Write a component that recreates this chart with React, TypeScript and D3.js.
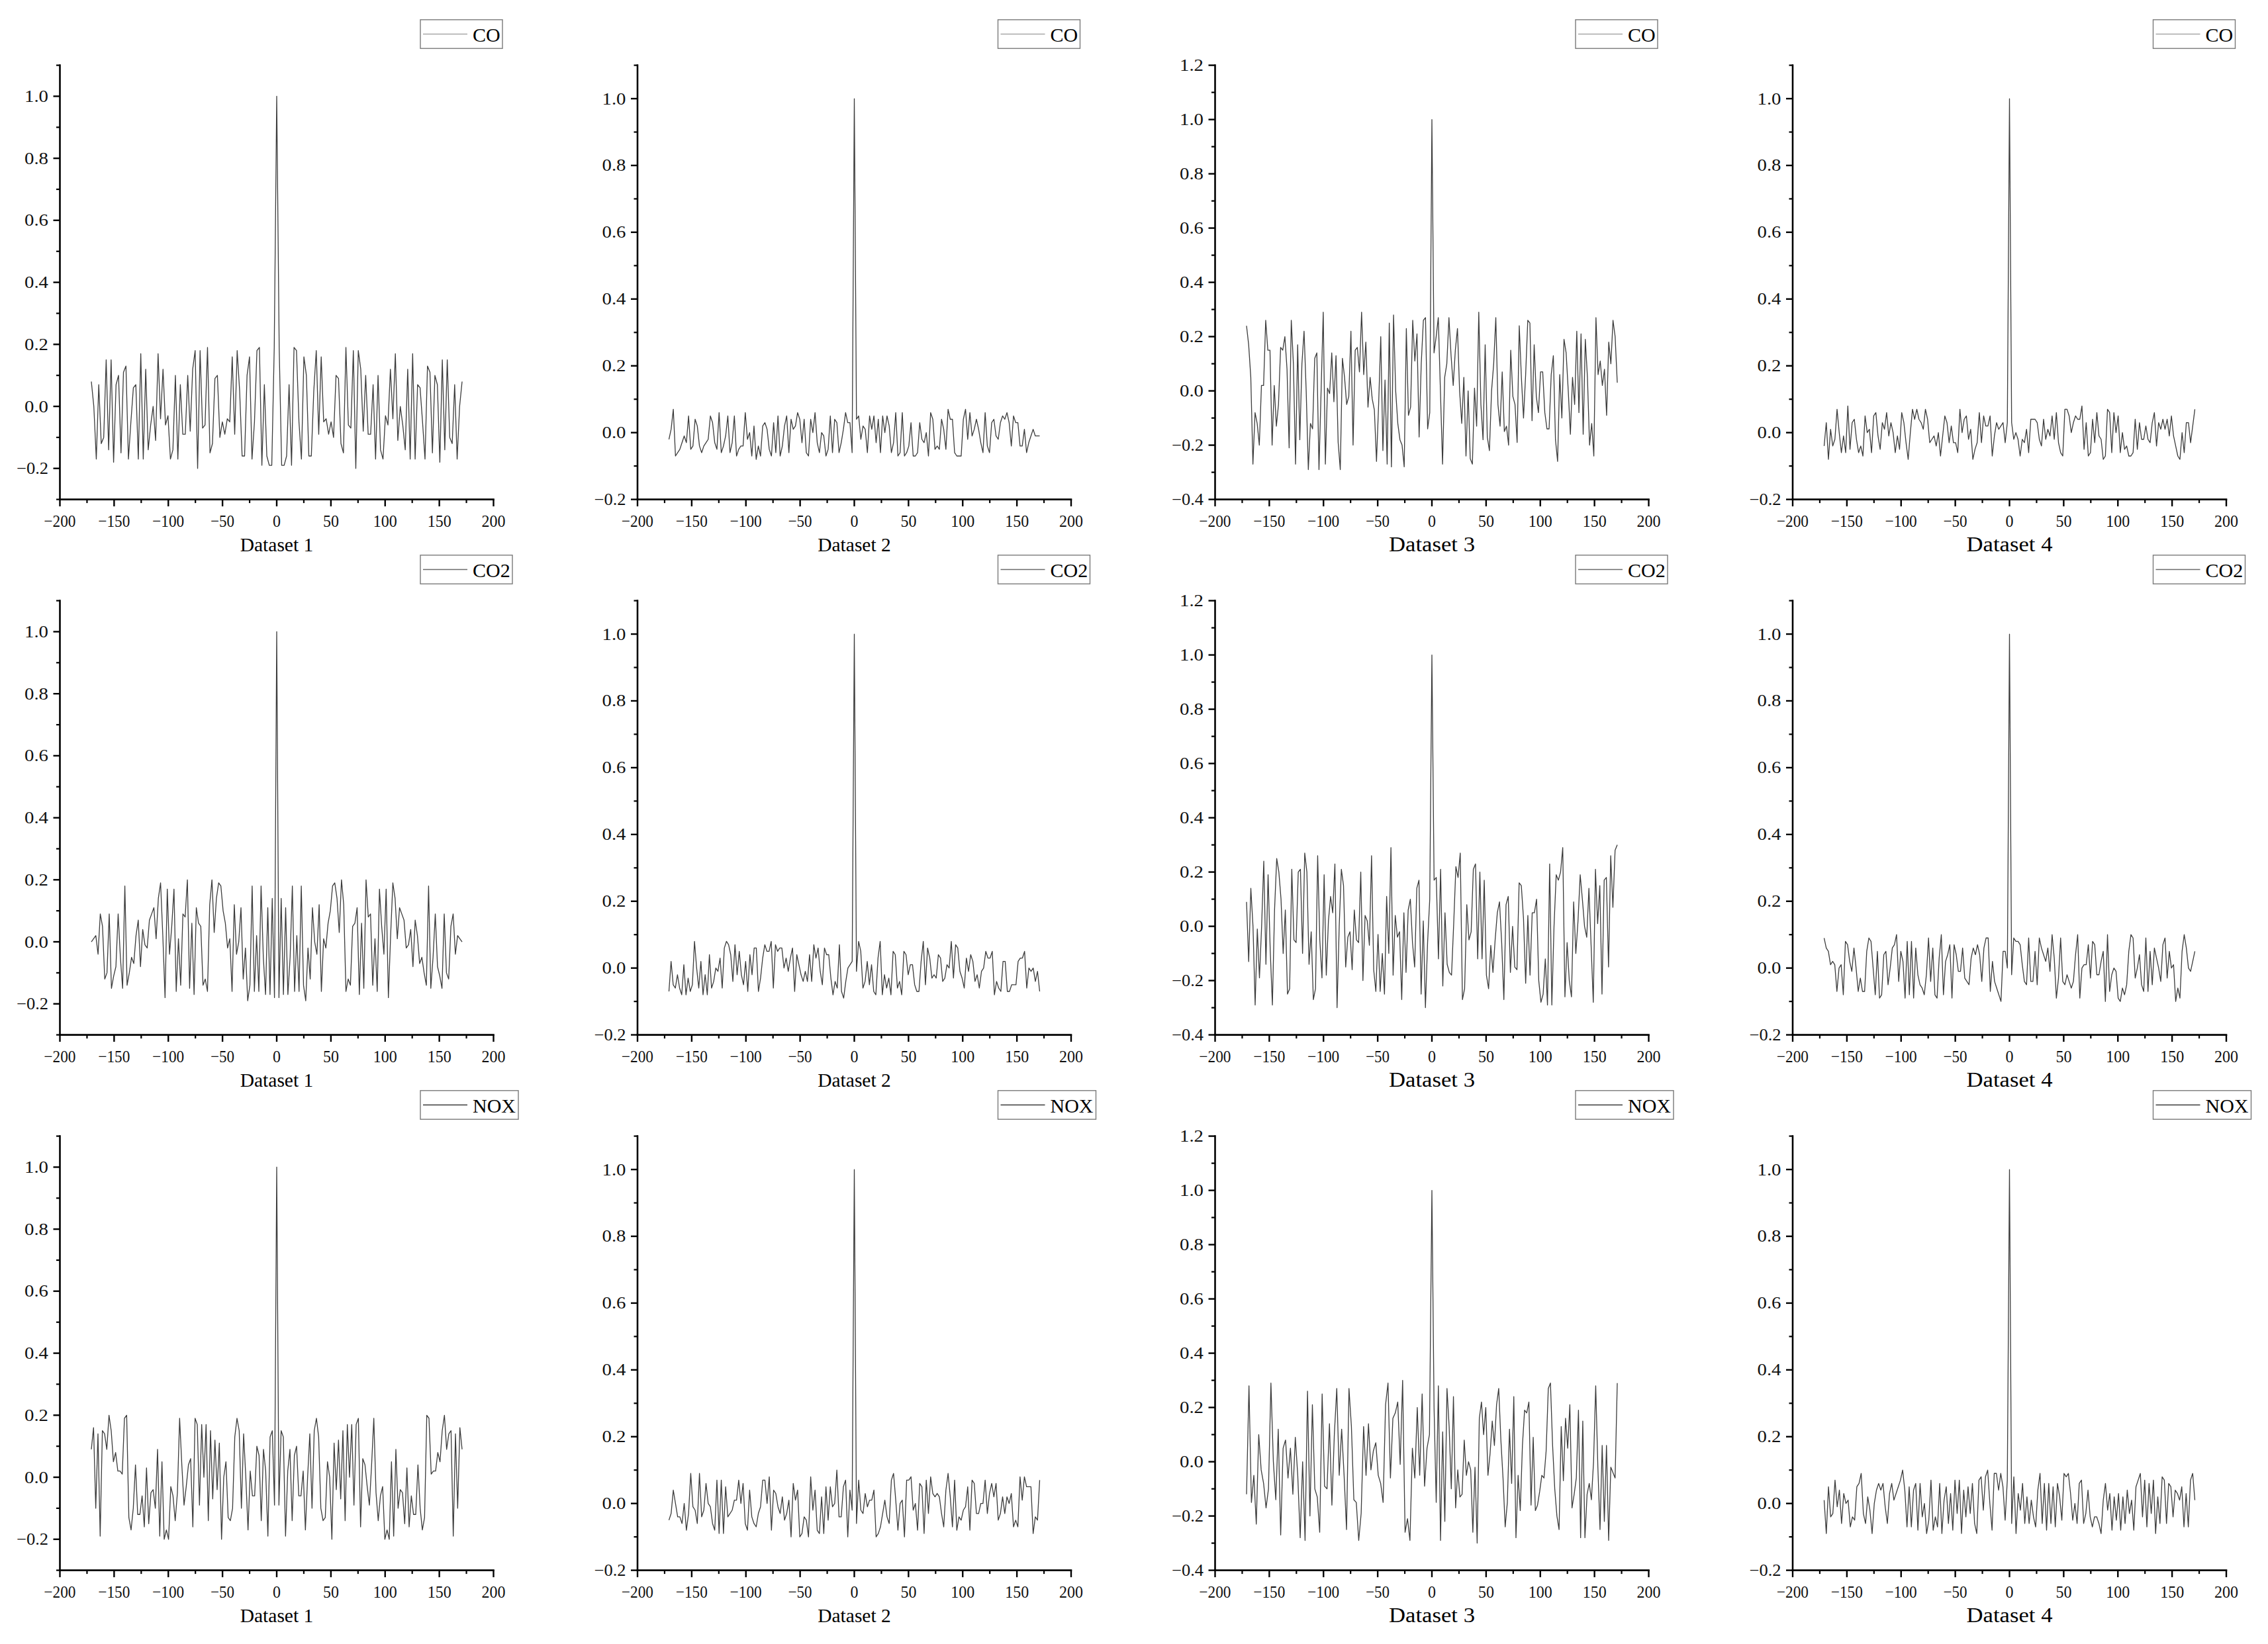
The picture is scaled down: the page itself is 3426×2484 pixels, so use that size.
import React from 'react';
import * as d3 from 'd3';

// cross-correlation panels: rows = gas, columns = dataset
const SERIES = ['CO', 'CO2', 'NOX'];
const DATASETS = ['Dataset 1', 'Dataset 2', 'Dataset 3', 'Dataset 4'];
const X_TICKS = [-200, -150, -100, -50, 0, 50, 100, 150, 200];
const X_MINOR = [-175, -125, -75, -25, 25, 75, 125, 175];
const Y_DOMAINS = [[-0.3, 1.1], [-0.2, 1.1], [-0.4, 1.2], [-0.2, 1.1]];
const Y_TICKS = [
  [-0.2, 0.0, 0.2, 0.4, 0.6, 0.8, 1.0],
  [-0.2, 0.0, 0.2, 0.4, 0.6, 0.8, 1.0],
  [-0.4, -0.2, 0.0, 0.2, 0.4, 0.6, 0.8, 1.0, 1.2],
  [-0.2, 0.0, 0.2, 0.4, 0.6, 0.8, 1.0],
];
const MAX_LAG = 171;
const PEAK = 1.0;

// values at negative lags (from -171 towards 0) and positive lags (from 0 to 171)
const CO_D1_NEG = [
  0.08, 0.00, -0.17, 0.07, -0.12,
  -0.10, 0.15, -0.14, 0.15, -0.18, 0.07, 0.10, -0.15, 0.11, 0.13,
  -0.17, -0.05, 0.06, 0.07, -0.17, 0.17, -0.17, 0.12, -0.14, -0.06,
  0.00, -0.11, 0.17, -0.04, 0.12, -0.06, -0.03, -0.17, -0.14, 0.10,
  -0.17, 0.07, -0.09, -0.09, 0.10, -0.08, 0.12, 0.18, -0.20, 0.18,
  -0.07, -0.06, 0.19, -0.15, -0.12, 0.09, 0.10, -0.10, -0.05, -0.09,
  -0.04, -0.05, 0.16, -0.09, 0.18, 0.05, -0.16, -0.16, 0.10, 0.16,
  -0.17, -0.05, 0.18, 0.19, -0.19, 0.07, -0.16, -0.19, -0.19, 0.19,
];
const CO_D1_POS = [
  0.19, -0.19, -0.19, -0.16, 0.07, -0.19, 0.19, 0.18, -0.05, -0.17,
  0.16, 0.10, -0.16, -0.16, 0.05, 0.18, -0.09, 0.16, -0.05, -0.04,
  -0.09, -0.05, -0.10, 0.10, 0.09, -0.12, -0.15, 0.19, -0.06, -0.07,
  0.18, -0.20, 0.18, 0.12, -0.08, 0.10, -0.09, -0.09, 0.07, -0.17,
  0.10, -0.14, -0.17, -0.03, -0.06, 0.12, -0.04, 0.17, -0.11, 0.00,
  -0.06, -0.14, 0.12, -0.17, 0.17, -0.17, 0.07, 0.06, -0.05, -0.17,
  0.13, 0.11, -0.15, 0.10, 0.07, -0.18, 0.15, -0.14, 0.15, -0.10,
  -0.12, 0.07, -0.17, 0.00, 0.08,
];
const CO_D2_NEG = [
  -0.02, 0.01, 0.07, -0.07, -0.06, -0.05, -0.03, -0.01, -0.03, 0.05,
  -0.05, -0.04, 0.04, 0.02, -0.04, -0.06, -0.04, -0.03, -0.02, 0.05,
  0.03, -0.03, -0.05, 0.06, -0.06, -0.04, -0.01, 0.05, -0.06, -0.03,
  0.05, -0.07, -0.05, -0.04, -0.04, 0.06, -0.02, 0.00, -0.07, 0.02,
  -0.08, -0.04, -0.07, 0.02, 0.03, 0.01, -0.05, -0.07, 0.03, -0.06,
  0.05, -0.07, -0.04, 0.02, 0.05, -0.06, 0.04, 0.01, 0.02, 0.06,
  0.04, -0.03, 0.04, -0.06, -0.07, 0.04, 0.00, 0.06, -0.03, -0.06,
  0.00, -0.01, -0.07, -0.05, 0.05, -0.06, 0.04, 0.03, -0.06, -0.03,
  0.01, 0.06, 0.03, 0.03, -0.06,
];
const CO_D2_POS = [
  0.04, 0.05, -0.02, 0.02, 0.01, -0.06, 0.05, 0.01, 0.05, -0.03,
  0.04, -0.06, 0.05, 0.00, 0.05, 0.02, -0.06, -0.03, 0.06, -0.07,
  -0.06, 0.06, -0.07, -0.06, -0.04, 0.03, -0.07, -0.07, -0.06, 0.03,
  -0.02, -0.03, 0.00, -0.07, 0.06, 0.04, -0.05, -0.04, -0.05, 0.04,
  0.01, -0.05, 0.07, 0.04, 0.04, -0.06, -0.07, -0.07, -0.07, 0.04,
  0.07, -0.02, 0.06, -0.01, 0.01, 0.04, 0.01, -0.03, -0.06, 0.06,
  -0.04, -0.06, 0.03, 0.04, -0.01, -0.02, 0.03, 0.05, 0.04, 0.06,
  0.03, -0.04, 0.05, 0.03, 0.03, -0.04, -0.04, 0.01, -0.06, -0.03,
  -0.01, 0.01, -0.01, -0.01, -0.01,
];
const CO_D3_NEG = [
  0.24, 0.17, 0.05, -0.27, -0.08, -0.12, -0.20, 0.02, 0.02, 0.26,
  0.15, 0.15, -0.20, 0.02, -0.13, -0.05, 0.16, 0.15, 0.20, 0.08,
  -0.21, 0.26, 0.10, -0.27, 0.17, -0.18, 0.10, 0.22, 0.00, -0.29,
  -0.12, -0.14, 0.12, 0.14, -0.29, 0.00, 0.29, -0.27, 0.01, -0.01,
  0.14, -0.04, 0.13, -0.19, -0.29, 0.12, 0.05, -0.05, -0.02, 0.22,
  -0.20, 0.15, 0.16, 0.07, 0.29, 0.06, 0.18, -0.06, 0.05, -0.03,
  -0.07, -0.26, -0.05, 0.20, -0.22, 0.04, -0.27, 0.25, -0.28, 0.28,
  0.00, -0.12, -0.18, -0.20, -0.28, 0.23, -0.09, -0.06, 0.26, 0.11,
  0.21, -0.17, 0.10, 0.26, 0.27, -0.14, -0.08,
];
const CO_D3_POS = [
  0.14, 0.20, 0.27, 0.00, -0.27, 0.05, 0.10, 0.27, 0.13, 0.02,
  0.15, 0.23, 0.00, -0.12, 0.05, -0.24, 0.00, -0.25, -0.27, 0.01,
  -0.13, 0.29, -0.05, -0.18, 0.17, -0.17, -0.22, 0.00, 0.10, 0.27,
  -0.05, -0.13, 0.07, -0.15, -0.13, -0.20, 0.15, -0.02, -0.05, -0.19,
  0.24, 0.05, -0.10, 0.06, 0.26, 0.25, -0.11, 0.17, -0.02, -0.08,
  0.07, 0.07, -0.08, -0.14, -0.14, 0.06, 0.13, -0.18, -0.26, 0.06,
  -0.10, 0.19, 0.14, 0.00, -0.16, 0.05, -0.05, 0.22, -0.08, 0.21,
  -0.16, 0.19, 0.05, -0.20, -0.12, -0.24, 0.27, 0.06, 0.11, 0.02,
  0.08, -0.09, 0.18, 0.10, 0.26, 0.20, 0.03,
];
const CO_D4_NEG = [
  -0.04, 0.03, -0.08, 0.01, -0.04, -0.02, 0.07, 0.00, -0.06, -0.01,
  -0.06, 0.08, -0.05, 0.03, 0.04, -0.02, -0.06, -0.04, -0.07, 0.05,
  0.00, 0.01, -0.06, 0.05, 0.06, -0.01, -0.05, 0.03, 0.01, 0.06,
  -0.01, 0.03, 0.00, -0.06, -0.01, -0.05, 0.06, 0.03, -0.03, -0.08,
  0.00, 0.07, 0.04, 0.07, 0.04, 0.03, 0.01, 0.07, 0.04, -0.03,
  -0.02, -0.01, -0.04, 0.00, -0.07, -0.01, 0.05, 0.03, -0.03, 0.02,
  -0.03, -0.03, -0.06, 0.07, 0.00, 0.04, 0.05, -0.02, 0.01, -0.08,
  -0.05, -0.03, 0.06, -0.03, 0.05, 0.02, 0.02, 0.05, -0.07, -0.01,
  0.03, 0.01, 0.02, 0.03, -0.03, 0.03,
];
const CO_D4_POS = [
  0.03, -0.02, 0.00, -0.02, -0.07, -0.02, -0.03, 0.01, -0.06, 0.04,
  0.04, 0.04, 0.03, -0.02, -0.04, 0.04, -0.02, 0.01, -0.01, 0.05,
  -0.02, 0.06, -0.03, -0.06, -0.07, 0.07, 0.07, 0.05, 0.00, 0.03,
  0.05, 0.04, 0.04, 0.08, -0.05, 0.03, -0.07, -0.06, 0.04, -0.03,
  0.06, -0.01, -0.02, -0.08, -0.07, 0.07, 0.06, -0.06, 0.06, 0.00,
  0.05, -0.06, 0.00, -0.05, -0.04, -0.07, -0.07, -0.06, 0.04, -0.05,
  0.03, -0.02, -0.02, 0.02, -0.02, -0.03, 0.03, 0.06, -0.04, 0.03,
  0.01, 0.04, 0.01, 0.04, -0.01, 0.05, -0.01, -0.04, -0.07, -0.08,
  0.00, -0.06, 0.03, 0.03, -0.03, 0.02, 0.07,
];

const CO2_D1_NEG = [
  0.00, 0.01, 0.02,
  -0.04, 0.09, 0.05, -0.12, -0.10, 0.09, -0.15, -0.11, -0.08, 0.09,
  -0.05, -0.15, 0.18, -0.14, -0.10, -0.05, -0.07, 0.02, 0.07, -0.08,
  0.04, -0.01, -0.02, 0.07, 0.09, 0.11, 0.01, 0.14, 0.19, 0.02,
  -0.18, 0.17, -0.04, 0.05, 0.17, -0.16, 0.01, -0.14, 0.09, 0.08,
  0.20, -0.15, 0.06, -0.17, 0.11, 0.06, 0.05, -0.14, -0.12, -0.16,
  0.12, 0.20, 0.03, 0.14, 0.19, 0.18, 0.10, 0.06, -0.02, 0.01,
  -0.16, 0.12, -0.04, 0.00, 0.11, -0.12, -0.02, -0.19, -0.14, 0.18,
  -0.16, 0.02, -0.16, 0.18, -0.05, -0.17, 0.11, -0.17, 0.14, -0.18,
];
const CO2_D1_POS = [
  -0.18, 0.14, -0.17, 0.11, -0.17, -0.05, 0.18, -0.16, 0.02, -0.16,
  0.18, -0.14, -0.19, -0.02, -0.12, 0.11, 0.00, -0.04, 0.12, -0.16,
  0.01, -0.02, 0.06, 0.10, 0.18, 0.19, 0.14, 0.03, 0.20, 0.12,
  -0.16, -0.12, -0.14, 0.05, 0.06, 0.11, -0.17, 0.06, -0.15, 0.20,
  0.08, 0.09, -0.14, 0.01, -0.16, 0.17, 0.05, -0.04, 0.17, -0.18,
  0.02, 0.19, 0.14, 0.01, 0.11, 0.09, 0.07, -0.02, -0.01, 0.04,
  -0.08, 0.07, 0.02, -0.07, -0.05, -0.10, -0.14, 0.18, -0.15, -0.05,
  0.09, -0.08, -0.11, -0.15, 0.09, -0.10, -0.12, 0.05, 0.09, -0.04,
  0.02, 0.01, 0.00,
];
const CO2_D2_NEG = [
  -0.07, 0.02, -0.05, -0.06, -0.02, -0.06, -0.08, 0.01, -0.08, -0.03,
  -0.07, -0.05, 0.08, 0.00, -0.06, 0.02, -0.08, -0.02, -0.08, 0.04,
  -0.06, -0.04, 0.00, -0.01, 0.03, -0.06, 0.06, 0.08, 0.07, 0.04,
  -0.04, 0.07, -0.02, 0.05, -0.02, -0.05, 0.02, -0.07, 0.04, -0.02,
  0.06, 0.06, -0.07, -0.03, 0.03, 0.07, 0.05, 0.05, 0.08, -0.06,
  0.07, 0.05, 0.06, 0.06, 0.00, 0.03, -0.01, 0.03, 0.06, -0.07,
  0.04, 0.01, -0.02, -0.04, -0.01, -0.04, 0.04, -0.04, 0.07, 0.03,
  0.06, -0.01, -0.05, 0.06, 0.04, 0.04, -0.03, -0.08, -0.04, -0.06,
  0.07, -0.07, -0.09, -0.04, 0.00, 0.01, 0.02,
];
const CO2_D2_POS = [
  -0.01, 0.08, 0.05, -0.06, -0.04, 0.02, -0.05, 0.01, -0.07, -0.08,
  0.03, 0.08, -0.08, -0.02, -0.06, -0.03, -0.08, 0.05, 0.04, -0.06,
  -0.04, -0.08, 0.05, 0.04, -0.02, 0.01, 0.01, -0.05, -0.07, -0.07,
  0.02, 0.08, -0.05, 0.06, 0.03, -0.03, -0.02, -0.03, 0.04, 0.03,
  -0.04, -0.03, 0.01, 0.00, 0.08, -0.03, 0.07, 0.06, -0.01, -0.03,
  -0.06, 0.03, -0.01, 0.04, 0.02, -0.04, -0.02, -0.06, -0.01, 0.00,
  0.05, 0.03, 0.03, 0.05, -0.08, -0.04, -0.06, -0.07, 0.02, 0.02,
  -0.07, -0.07, -0.05, -0.05, -0.05, 0.02, 0.03, 0.03, 0.05, -0.06,
  0.00, -0.01, 0.00, -0.04, -0.01, -0.07,
];
const CO2_D3_NEG = [
  0.09, -0.13, 0.14, 0.00, -0.29, -0.01, -0.19, 0.00, 0.24, -0.14,
  0.19, -0.09, -0.29, 0.06, 0.25, 0.20, 0.10, -0.10, 0.06, -0.25,
  -0.23, 0.21, -0.05, -0.06, 0.20, 0.21, -0.10, 0.27, 0.20, -0.14,
  -0.02, -0.27, -0.23, 0.26, -0.05, -0.19, 0.19, -0.18, 0.02, 0.11,
  0.05, 0.23, -0.30, 0.00, 0.21, 0.15, -0.15, -0.04, -0.02, -0.16,
  0.06, -0.05, -0.06, 0.20, -0.20, 0.04, 0.02, -0.07, 0.26, -0.16,
  -0.24, -0.03, -0.24, -0.10, -0.25, 0.11, -0.10, 0.29, -0.18, 0.04,
  -0.04, -0.02, -0.27, 0.05, -0.17, 0.06, 0.10, -0.06, -0.15, 0.14,
  0.17, -0.25, 0.02, -0.30, -0.06, 0.10,
];
const CO2_D3_POS = [
  0.17, 0.18, -0.12, 0.21, -0.22, 0.05, -0.14, -0.17, -0.18, 0.01,
  0.22, 0.18, 0.27, -0.27, -0.23, 0.08, -0.05, -0.02, 0.21, 0.23,
  -0.12, 0.20, -0.12, 0.17, -0.18, -0.23, -0.07, -0.17, -0.05, 0.05,
  0.09, -0.06, -0.27, 0.08, 0.11, -0.17, 0.00, -0.15, -0.16, 0.16,
  0.15, 0.03, -0.21, 0.04, -0.18, 0.05, 0.05, 0.10, -0.20, -0.28,
  -0.25, -0.12, -0.29, 0.23, -0.29, 0.00, 0.19, 0.17, 0.20, 0.29,
  -0.26, -0.06, -0.20, -0.26, 0.09, -0.10, 0.02, 0.19, 0.10, 0.00,
  -0.04, 0.14, -0.07, -0.28, 0.21, 0.01, 0.15, -0.25, 0.17, 0.18,
  -0.15, 0.26, 0.07, 0.28, 0.30,
];
const CO2_D4_NEG = [
  0.09, 0.06, 0.05, 0.01, 0.02, 0.01, -0.07, 0.00, 0.01, -0.08,
  0.08, 0.07, 0.02, -0.01, 0.06, 0.00, -0.07, -0.03, -0.07, -0.07,
  0.05, 0.09, 0.08, 0.00, -0.08, 0.05, -0.09, -0.08, 0.04, 0.05,
  -0.05, 0.00, 0.06, 0.07, 0.10, -0.04, 0.05, 0.02, -0.09, 0.08,
  -0.08, 0.08, -0.09, 0.06, -0.02, -0.05, -0.06, -0.08, -0.02, 0.09,
  -0.04, 0.06, -0.08, -0.09, 0.03, 0.10, -0.08, 0.02, 0.04, 0.07,
  -0.09, 0.07, 0.04, -0.01, -0.01, 0.06, -0.03, -0.04, -0.05, 0.03,
  0.06, 0.04, 0.07, 0.04, -0.04, 0.06, 0.09, 0.09, -0.07, 0.02,
  -0.04, -0.06, -0.08, -0.10, 0.05, 0.05, 0.00,
];
const CO2_D4_POS = [
  -0.02, 0.09, 0.08, 0.08, 0.07, 0.01, -0.04, -0.05, 0.09, -0.04,
  -0.04, 0.05, -0.05, 0.09, 0.06, 0.04, 0.02, 0.06, -0.01, 0.10,
  0.03, -0.09, -0.03, 0.09, -0.04, -0.05, -0.02, -0.04, -0.06, -0.04,
  0.04, 0.10, -0.09, 0.00, 0.01, 0.01, 0.07, -0.03, 0.08, 0.07,
  -0.02, -0.02, 0.02, 0.05, -0.10, 0.10, -0.07, -0.02, 0.00, -0.01,
  -0.09, -0.10, -0.06, -0.08, -0.05, 0.05, 0.10, 0.09, -0.03, 0.00,
  0.04, -0.05, -0.07, 0.09, -0.07, 0.05, -0.05, 0.06, 0.03, 0.00,
  -0.04, 0.07, 0.09, -0.03, 0.05, 0.00, 0.01, -0.10, -0.06, -0.09,
  0.05, 0.10, 0.06, 0.00, -0.01, 0.02, 0.05,
];

const NOX_D1_NEG = [
  0.09, 0.16, -0.10, 0.14,
  -0.19, 0.15, 0.14, 0.09, 0.20, 0.15, 0.05, 0.08, 0.02, 0.02,
  0.01, 0.19, 0.20, -0.13, -0.17, -0.10, 0.04, -0.12, -0.12, -0.06,
  -0.16, 0.03, -0.15, -0.05, -0.04, -0.10, 0.09, -0.19, 0.05, -0.20,
  -0.17, -0.20, -0.03, -0.06, -0.14, -0.05, 0.19, 0.04, -0.09, -0.03,
  0.04, 0.06, -0.16, 0.19, 0.17, -0.09, 0.17, 0.00, 0.17, -0.14,
  0.15, -0.07, 0.12, -0.04, 0.11, -0.20, 0.00, 0.05, -0.13, -0.14,
  -0.10, 0.13, 0.19, 0.15, -0.10, 0.14, 0.00, -0.17, 0.02, -0.06,
  -0.06, 0.10, 0.07, -0.14, 0.09, 0.02, -0.19, 0.13, 0.15, -0.09,
];
const NOX_D1_POS = [
  -0.09, 0.15, 0.13, -0.19, 0.02, 0.09, -0.14, 0.07, 0.10, -0.06,
  -0.06, 0.02, -0.17, 0.00, 0.14, -0.10, 0.15, 0.19, 0.13, -0.10,
  -0.14, -0.13, 0.05, 0.00, -0.20, 0.11, -0.04, 0.12, -0.07, 0.15,
  -0.14, 0.17, 0.00, 0.17, -0.09, 0.17, 0.19, -0.16, 0.06, 0.04,
  -0.03, -0.09, 0.04, 0.19, -0.05, -0.14, -0.06, -0.03, -0.20, -0.17,
  -0.20, 0.05, -0.19, 0.09, -0.10, -0.04, -0.05, -0.15, 0.03, -0.16,
  -0.06, -0.12, -0.12, 0.04, -0.10, -0.17, -0.13, 0.20, 0.19, 0.01,
  0.02, 0.02, 0.08, 0.05, 0.15, 0.20, 0.09, 0.14, 0.15, -0.19,
  0.14, -0.10, 0.16, 0.09,
];
const NOX_D2_NEG = [
  -0.05, -0.03, 0.04, 0.00, -0.04, -0.04, -0.06, 0.00, -0.08, -0.03,
  0.09, -0.01, -0.02, -0.06, 0.09, -0.04, -0.02, 0.06, 0.00, -0.01,
  -0.06, -0.08, 0.07, -0.09, 0.07, -0.09, 0.05, -0.04, -0.03, -0.02,
  0.01, 0.01, 0.07, 0.00, 0.06, -0.06, -0.08, 0.04, -0.04, -0.06,
  -0.07, -0.03, -0.01, 0.07, 0.07, 0.00, 0.08, -0.08, 0.04, 0.03,
  -0.01, -0.03, 0.02, -0.05, -0.03, 0.01, -0.10, 0.06, 0.01, 0.04,
  -0.10, -0.09, -0.04, -0.05, -0.10, 0.08, -0.02, 0.04, -0.08, -0.09,
  0.02, -0.09, 0.05, -0.05, 0.05, -0.01, 0.00, 0.10, -0.04, -0.04,
  0.05, 0.07, -0.10, 0.04, -0.02,
];
const NOX_D2_POS = [
  -0.06, 0.07, -0.02, -0.03, 0.03, -0.01, 0.01, 0.01, 0.04, -0.10,
  -0.09, -0.07, -0.03, 0.01, -0.04, -0.06, 0.07, 0.09, 0.01, -0.08,
  0.00, 0.01, -0.10, 0.07, 0.07, 0.08, -0.02, 0.00, -0.08, 0.06,
  0.05, -0.09, 0.07, -0.03, 0.08, 0.03, 0.02, 0.03, 0.02, -0.03,
  -0.07, 0.04, 0.09, 0.02, -0.07, 0.07, -0.08, -0.04, -0.05, -0.02,
  -0.01, 0.05, -0.08, 0.07, 0.06, -0.03, -0.03, 0.00, 0.00, 0.07,
  -0.03, 0.03, 0.06, 0.02, 0.06, -0.05, -0.03, 0.02, -0.03, 0.02,
  0.00, 0.03, -0.07, -0.05, -0.07, 0.08, 0.01, 0.08, 0.05, 0.05,
  0.05, -0.09, -0.04, -0.05, 0.07,
];
const NOX_D3_NEG = [
  -0.12, 0.28, -0.15, -0.05, -0.23, 0.10, -0.03, -0.08, -0.17, -0.10,
  0.29, 0.00, -0.14, 0.12, -0.27, 0.05, 0.08, -0.06, 0.05, -0.12,
  0.09, -0.05, -0.28, 0.00, -0.29, 0.26, -0.20, 0.21, -0.10, -0.13,
  -0.26, 0.25, -0.09, -0.10, 0.14, -0.16, 0.10, 0.27, -0.05, 0.12,
  -0.05, -0.25, 0.27, 0.13, -0.14, -0.15, -0.29, -0.19, 0.13, -0.05,
  0.14, -0.03, 0.04, 0.07, -0.05, -0.08, -0.15, 0.21, 0.29, -0.06,
  0.16, 0.18, 0.22, -0.01, 0.30, -0.26, -0.21, -0.29, 0.05, -0.06,
  0.20, -0.05, 0.25, -0.09, 0.05, 0.10,
];
const NOX_D3_POS = [
  0.20, -0.15, 0.28, -0.29, 0.11, -0.22, 0.27, 0.13, -0.10, 0.24,
  -0.17, -0.03, -0.13, -0.12, 0.08, -0.05, 0.00, -0.03, -0.26, -0.02,
  -0.30, 0.16, 0.22, 0.10, 0.20, -0.05, 0.03, 0.15, 0.06, 0.21,
  0.27, 0.08, -0.06, -0.24, -0.15, 0.12, -0.08, 0.24, -0.28, -0.05,
  -0.18, 0.06, 0.19, 0.18, 0.22, -0.16, 0.09, -0.18, -0.16, -0.11,
  -0.05, -0.06, 0.04, 0.27, 0.29, 0.06, -0.10, -0.20, -0.25, 0.13,
  -0.07, 0.16, 0.05, 0.21, -0.17, -0.12, -0.06, 0.19, -0.28, 0.15,
  -0.28, -0.12, -0.08, -0.14, 0.00, 0.28, -0.02, -0.25, 0.06, -0.22,
  0.06, -0.29, -0.02, -0.04, -0.06, 0.29,
];
const NOX_D4_NEG = [
  0.01, -0.09, 0.05, -0.04, -0.03, 0.07, -0.01, 0.04, -0.06, 0.03,
  0.00, 0.01, -0.07, -0.04, -0.05, 0.05, 0.06, 0.09, -0.03, -0.06,
  0.02, -0.02, -0.09, 0.00, 0.04, 0.06, 0.04, 0.06, -0.01, -0.06,
  0.03, 0.06, 0.01, 0.03, 0.05, 0.07, 0.10, 0.04, -0.07, 0.05,
  -0.07, 0.04, 0.06, -0.08, 0.06, -0.04, 0.00, -0.09, -0.05, 0.07,
  -0.08, -0.04, -0.07, 0.06, -0.09, 0.01, 0.05, -0.06, 0.03, -0.08,
  0.07, -0.03, 0.07, -0.09, 0.04, -0.04, 0.05, -0.03, 0.06, -0.06,
  -0.09, 0.07, 0.08, -0.02, 0.08, 0.10, 0.00, -0.08, 0.09, 0.09,
  0.04, 0.09, 0.05, -0.05, 0.07,
];
const NOX_D4_POS = [
  -0.06, 0.08, -0.09, 0.03, -0.02, 0.06, -0.06, 0.02, -0.06, 0.01,
  -0.04, -0.07, 0.04, 0.09, -0.06, 0.06, -0.08, 0.06, -0.06, 0.05,
  -0.07, 0.06, 0.02, -0.05, 0.09, 0.08, 0.09, 0.03, -0.05, 0.00,
  -0.06, 0.06, 0.07, -0.06, -0.03, 0.04, -0.04, -0.07, -0.04, -0.04,
  -0.06, -0.09, 0.01, 0.06, -0.02, 0.03, -0.08, 0.02, -0.05, 0.03,
  -0.08, 0.02, -0.06, 0.04, -0.03, 0.01, -0.08, 0.05, 0.07, 0.09,
  -0.04, 0.07, -0.07, 0.06, -0.03, 0.07, -0.09, 0.02, -0.06, 0.08,
  0.07, -0.06, 0.06, 0.05, -0.04, 0.04, 0.03, 0.01, 0.05, -0.07,
  0.03, -0.07, 0.07, 0.09, 0.01,
];

const NEG = [
  [CO_D1_NEG, CO_D2_NEG, CO_D3_NEG, CO_D4_NEG],
  [CO2_D1_NEG, CO2_D2_NEG, CO2_D3_NEG, CO2_D4_NEG],
  [NOX_D1_NEG, NOX_D2_NEG, NOX_D3_NEG, NOX_D4_NEG],
];
const POS = [
  [CO_D1_POS, CO_D2_POS, CO_D3_POS, CO_D4_POS],
  [CO2_D1_POS, CO2_D2_POS, CO2_D3_POS, CO2_D4_POS],
  [NOX_D1_POS, NOX_D2_POS, NOX_D3_POS, NOX_D4_POS],
];

// layout
const W = 3426;
const H = 2484;
const LEFT0 = 90.5;
const COL_STEP = 872.5;
const TOP0 = 98.6;
const ROW_STEP = 809;
const PLOT_W = 655;
const PLOT_H = 656;
const SERIF = "'Liberation Serif', 'Times New Roman', serif";
const LEGEND_W = { CO: 124, CO2: 139, NOX: 148 };
const LEGEND_STROKE = { CO: '#a6a6a6', CO2: '#6a6a6a', NOX: '#3a3a3a' };

const fmt = d3.format('.1f');

function Panel({ row, col }) {
  const left = LEFT0 + col * COL_STEP;
  const top = TOP0 + row * ROW_STEP;
  const bottom = top + PLOT_H;
  const [y0, y1] = Y_DOMAINS[col];

  const x = d3.scaleLinear().domain([-200, 200]).range([left, left + PLOT_W]);
  const y = d3.scaleLinear().domain([y0, y1]).range([bottom, top]);

  const neg = NEG[row][col];
  const pos = POS[row][col];
  const pts = [
    ...neg.map((v, i) => [-MAX_LAG + (i * MAX_LAG) / neg.length, v]),
    [0, PEAK],
    ...pos.map((v, j) => [((j + 1) * MAX_LAG) / pos.length, v]),
  ];
  const line = d3.line().x((d) => x(d[0])).y((d) => y(d[1]));

  const yMinor = d3
    .range(Math.round(y0 * 10), Math.round(y1 * 10) + 1)
    .filter((k) => Math.abs(k) % 2 === 1)
    .map((k) => k / 10);

  const name = SERIES[row];
  const lx = left + 544.5;
  const ly = top - 68.8;
  const mono = col >= 2;

  return (
    <g>
      <path d={line(pts)} fill="none" stroke="#3c3c3c" strokeWidth={1.3} strokeLinejoin="round" />

      {/* axes */}
      <line x1={left} x2={left + PLOT_W} y1={bottom} y2={bottom} stroke="#000" strokeWidth={2.6} strokeLinecap="square" />
      <line x1={left} x2={left} y1={bottom} y2={top} stroke="#000" strokeWidth={2.6} strokeLinecap="square" />

      {X_TICKS.map((t) => (
        <g key={'xt' + t}>
          <line x1={x(t)} x2={x(t)} y1={bottom} y2={bottom + 10.5} stroke="#000" strokeWidth={2.4} />
          <text
            x={x(t)}
            y={bottom + 41}
            textAnchor="middle"
            fontFamily={SERIF}
            fontSize={26}
            textLength={fmtX(t).length * 12}
            lengthAdjust="spacingAndGlyphs"
            fill="#111"
          >
            {fmtX(t)}
          </text>
        </g>
      ))}
      {X_MINOR.map((t) => (
        <line key={'xm' + t} x1={x(t)} x2={x(t)} y1={bottom} y2={bottom + 5.5} stroke="#000" strokeWidth={2.2} />
      ))}

      {Y_TICKS[col].map((t) => (
        <g key={'yt' + t}>
          <line x1={left - 10} x2={left} y1={y(t)} y2={y(t)} stroke="#000" strokeWidth={2.4} />
          <text
            x={left - 17.5}
            y={y(t) + 8.5}
            textAnchor="end"
            fontFamily={SERIF}
            fontSize={25}
            textLength={fmt(t).length * 12}
            lengthAdjust="spacingAndGlyphs"
            fill="#111"
          >
            {fmt(t)}
          </text>
        </g>
      ))}
      {yMinor.map((t) => (
        <line key={'ym' + t} x1={left - 5.5} x2={left} y1={y(t)} y2={y(t)} stroke="#000" strokeWidth={2.2} />
      ))}

      {/* x title */}
      <text
        x={left + PLOT_W / 2}
        y={bottom + 78.6}
        textAnchor="middle"
        fontFamily={SERIF}
        fontSize={mono ? 31 : 29.5}
        textLength={mono ? 130 : undefined}
        lengthAdjust={mono ? 'spacingAndGlyphs' : undefined}
        fill="#000"
      >
        {DATASETS[col]}
      </text>

      {/* legend */}
      <rect x={lx} y={ly} width={LEGEND_W[name]} height={43.4} fill="#fff" stroke="#7a7a7a" strokeWidth={1.4} />
      <line x1={lx + 4} x2={lx + 71} y1={ly + 21.7} y2={ly + 21.7} stroke={LEGEND_STROKE[name]} strokeWidth={1.4} />
      <text x={lx + 79} y={ly + 33.6} fontFamily={SERIF} fontSize={30} fill="#000">
        {name}
      </text>
    </g>
  );
}

function fmtX(t) {
  return t < 0 ? '\u2212' + Math.abs(t) : String(t);
}

export default function App() {
  const cells = [];
  SERIES.forEach((s, r) => {
    DATASETS.forEach((d, c) => {
      cells.push(<Panel key={s + d} row={r} col={c} />);
    });
  });
  return (
    <svg
      width={W}
      height={H}
      viewBox={`0 0 ${W} ${H}`}
      style={{ position: 'absolute', left: 0, top: 0, background: '#fff' }}
    >
      <rect width={W} height={H} fill="#fff" />
      {cells}
    </svg>
  );
}
